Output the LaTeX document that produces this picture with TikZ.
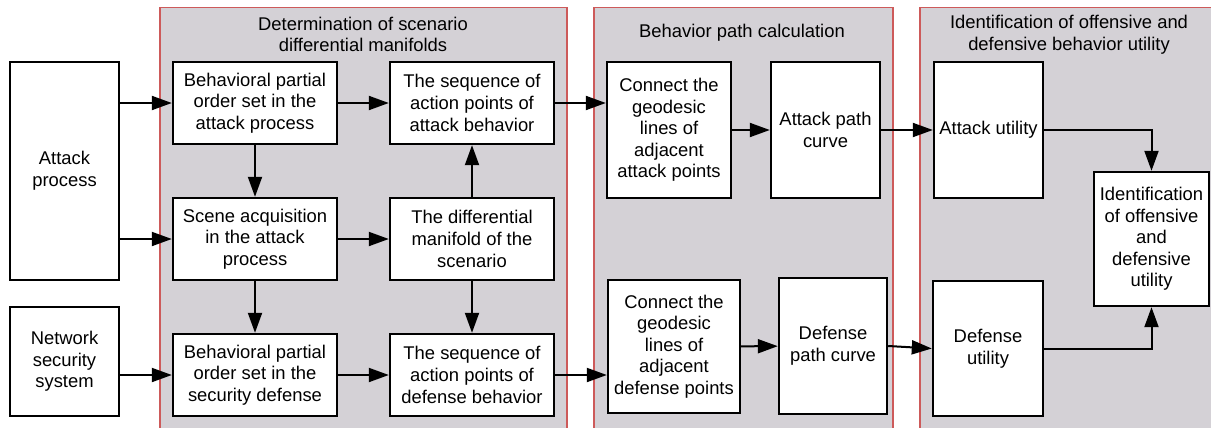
\documentclass[tikz,border=0pt]{standalone}
\usepackage{fontspec}
\setmainfont{Liberation Sans}
\usetikzlibrary{arrows.meta}
\definecolor{panelgray}{RGB}{212,209,214}
\definecolor{panelred}{RGB}{205,90,90}
\begin{document}
\begin{tikzpicture}[x=0.5pt,y=-0.5pt,
  every node/.style={font=\fontsize{9.2}{10.8}\selectfont, align=center, inner sep=0pt},
  box/.style={draw=black, line width=1.2pt, fill=white},
  wh/.style 2 args={minimum width=#1*0.5pt, minimum height=#2*0.5pt},
  arr/.style={line width=1pt, -{Triangle[length=10pt,width=7pt]}},
  panelfill/.style={fill=panelgray},
  panelline/.style={draw=panelred, line width=0.6pt}]
\useasboundingbox (0,0) rectangle (1211,428);
% panels
\fill[panelfill] (160,7.5) rectangle (567,428);
\draw[panelline] (160,430) -- (160,7.5) -- (567,7.5) -- (567,430);
\fill[panelfill] (594,7.5) rectangle (893,428);
\draw[panelline] (594,430) -- (594,7.5) -- (893,7.5) -- (893,430);
\fill[panelfill] (920,7.5) rectangle (1211,428);
\draw[panelline] (920,430) -- (920,7.5) -- (1213,7.5);
% titles
\node (t1) at (363,34.5) {Determination of scenario\\differential manifolds};
\node (t2) at (742,33) {Behavior path calculation};
\node (t3) at (1069,34.5) {Identification of offensive and\\defensive behavior utility};
% boxes
\node[box,wh={109}{218}] (attack) at (64.5,171) {Attack\\process};
\node[box,wh={109}{109}] (net) at (64.5,361.5) {Network\\security\\system};
\node[box,wh={164}{82}] (bpa) at (255,103) {Behavioral partial\\order set in the\\attack process};
\node[box,wh={164}{82}] (seqa) at (472,103) {The sequence of\\action points of\\attack behavior};
\node[box,wh={164}{82}] (scene) at (255,239) {Scene acquisition\\in the attack\\process};
\node[box,wh={164}{82}] (diff) at (472,239) {The differential\\manifold of the\\scenario};
\node[box,wh={164}{82}] (bpd) at (255,375) {Behavioral partial\\order set in the\\security defense};
\node[box,wh={164}{82}] (seqd) at (472,375) {The sequence of\\action points of\\defense behavior};
\node[box,wh={124}{136}] (cona) at (669,130) {Connect the\\geodesic\\lines of\\adjacent\\attack points};
\node[box,wh={109}{136}] (apc) at (825.5,130) {Attack path\\curve};
\node[box,wh={132}{133}] (cond) at (674,346.5) {Connect the\\geodesic\\lines of\\adjacent\\defense points};
\node[box,wh={108}{136}] (dpc) at (833,346) {Defense\\path curve};
\node[box,wh={109}{136}] (au) at (988.5,130) {Attack utility};
\node[box,wh={110}{135}] (du) at (988,348.5) {Defense\\utility};
\node[box,wh={115}{134}] (ident) at (1151.5,239) {Identification\\of offensive\\and\\defensive\\utility};
% connectors
\draw[arr] (attack.east |- bpa.west) -- (bpa.west);
\draw[arr] (attack.east |- scene.west) -- (scene.west);
\draw[arr] (net.east |- bpd.west) -- (bpd.west);
\draw[arr] (bpa) -- (seqa);
\draw[arr] (scene) -- (diff);
\draw[arr] (bpd) -- (seqd);
\draw[arr] (bpa) -- (scene);
\draw[arr] (scene) -- (bpd);
\draw[arr] (diff) -- (seqa);
\draw[arr] (diff) -- (seqd);
\draw[arr] (seqa.east) -- (seqa.east -| cona.west);
\draw[arr] (seqd.east) -- (seqd.east -| cond.west);
\draw[arr] (cona) -- (apc);
\draw[arr] (apc) -- (au);
\draw[arr] (cond) -- (dpc);
\draw[arr] (dpc.east) -- (du.west);
\draw[arr] (au.east) -| (ident.north);
\draw[arr] (du.east) -| (ident.south);
\end{tikzpicture}
\end{document}
